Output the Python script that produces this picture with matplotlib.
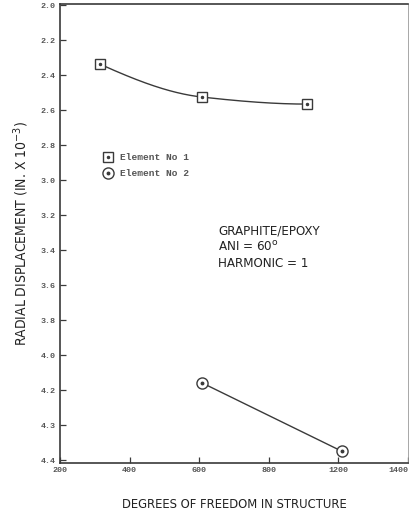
import numpy as np
import matplotlib
matplotlib.use("Agg")
import matplotlib.pyplot as plt
from matplotlib.lines import Line2D
from matplotlib import font_manager as fm

# ---- data (plot coordinates) ----
elem1_dof = [314, 609, 911]
elem1_disp = [2.337, 2.526, 2.566]
elem2_dof = [609, 1009]
elem2_disp = [4.16, 4.549]

x_tick_pos = [200, 400, 600, 800, 1000, 1200]
x_tick_labels = ["200", "400", "600", "800", "1200", "1400"]
y_tick_pos = [2.0, 2.2, 2.4, 2.6, 2.8, 3.0, 3.2, 3.4, 3.6, 3.8, 4.0, 4.2, 4.4, 4.6]
y_tick_labels = ["2.0", "2.2", "2.4", "2.6", "2.8", "3.0", "3.2", "3.4", "3.6",
                 "3.8", "4.0", "4.2", "4.3", "4.4"]

ink = "#3a3a3a"
names = {f.name for f in fm.fontManager.ttflist}
if "Liberation Sans Narrow" in names:
    cond = dict(family="Liberation Sans Narrow")
else:
    cond = dict(family="DejaVu Sans", stretch="condensed")


def pchip(x, y, xs):
    x = np.asarray(x, float); y = np.asarray(y, float)
    h = np.diff(x); dlt = np.diff(y) / h
    n = len(x); d = np.zeros(n)
    for k in range(1, n - 1):
        if dlt[k - 1] * dlt[k] > 0:
            w1 = 2 * h[k] + h[k - 1]; w2 = h[k] + 2 * h[k - 1]
            d[k] = (w1 + w2) / (w1 / dlt[k - 1] + w2 / dlt[k])
    d[0] = ((2 * h[0] + h[1]) * dlt[0] - h[0] * dlt[1]) / (h[0] + h[1])
    if np.sign(d[0]) != np.sign(dlt[0]):
        d[0] = 0
    d[-1] = ((2 * h[-1] + h[-2]) * dlt[-1] - h[-1] * dlt[-2]) / (h[-1] + h[-2])
    if np.sign(d[-1]) != np.sign(dlt[-1]):
        d[-1] = 0
    out = np.empty_like(xs)
    for i, xv in enumerate(xs):
        k = min(np.searchsorted(x, xv, side="right") - 1, n - 2)
        t = (xv - x[k]) / h[k]
        h00 = 2 * t**3 - 3 * t**2 + 1; h10 = t**3 - 2 * t**2 + t
        h01 = -2 * t**3 + 3 * t**2; h11 = t**3 - t**2
        out[i] = h00 * y[k] + h10 * h[k] * d[k] + h01 * y[k + 1] + h11 * h[k] * d[k + 1]
    return out


fig = plt.figure(figsize=(4.10, 5.14), dpi=100)
ax = fig.add_axes([60/410, 51/514, 348/410, 459/514])

# element 1: smooth curve through points
xs = np.linspace(min(elem1_dof), max(elem1_dof), 150)
ax.plot(xs, pchip(elem1_dof, elem1_disp, xs), color=ink, lw=1.0, zorder=2)
ax.plot(elem1_dof, elem1_disp, ls="none", marker="s", ms=6.5, mfc="white",
        mec=ink, mew=1.0, zorder=3)
ax.plot(elem1_dof, elem1_disp, ls="none", marker="o", ms=1.5, color=ink, zorder=4)

# element 2
ax.plot(elem2_dof, elem2_disp, color=ink, lw=1.0, zorder=2)
ax.plot(elem2_dof, elem2_disp, ls="none", marker="o", ms=8, mfc="white",
        mec=ink, mew=1.0, zorder=3)
ax.plot(elem2_dof, elem2_disp, ls="none", marker="o", ms=1.8, color=ink, zorder=4)

ax.set_xlim(200, 1195)
ax.set_ylim(4.617, 1.994)

ax.set_xticks(x_tick_pos)
ax.set_xticklabels(x_tick_labels)
ax.set_yticks(y_tick_pos)
ax.set_yticklabels(y_tick_labels)
ax.tick_params(direction="in", length=4, width=0.9, color=ink, labelcolor="#555555",
               labelsize=6, pad=3)
for lab in ax.get_xticklabels() + ax.get_yticklabels():
    lab.set_family("Liberation Mono")
    lab.set_weight("bold")
ax.get_xticklabels()[-1].set_horizontalalignment("right")

for s in ax.spines.values():
    s.set_color(ink)
    s.set_linewidth(1.2)
ax.spines["right"].set_linewidth(0.6)
ax.spines["right"].set_color("#999999")

ax.set_xlabel("DEGREES OF FREEDOM IN STRUCTURE", fontsize=9.3, color="#222222",
              labelpad=17, **cond)
ax.set_ylabel("RADIAL DISPLACEMENT (IN. X 10$^{-3}$)", fontsize=10,
              color="#222222", labelpad=7, **cond)

# legend
h1 = (Line2D([], [], ls="none", marker="s", ms=6.5, mfc="white", mec=ink, mew=1.0),
      Line2D([], [], ls="none", marker="o", ms=1.5, color=ink))
h2 = (Line2D([], [], ls="none", marker="o", ms=8, mfc="white", mec=ink, mew=1.0),
      Line2D([], [], ls="none", marker="o", ms=1.8, color=ink))
leg = ax.legend([h1, h2], ["Element No 1", "Element No 2"], frameon=False,
                loc="upper left", bbox_to_anchor=(0.105, 0.69),
                prop={"family": "Liberation Mono", "weight": "bold", "size": 6.8},
                handlelength=1.0, handletextpad=0.8, labelspacing=0.75,
                borderpad=0.2)
for t in leg.get_texts():
    t.set_color("#555555")

ax.text(0.455, 0.52, "GRAPHITE/EPOXY\nANI = 60$^{\\mathrm{o}}$\nHARMONIC = 1",
        transform=ax.transAxes, ha="left", va="top", fontsize=9.5,
        color="#222222", linespacing=1.25, **cond)

fig.savefig("out.png", dpi=100, facecolor="white")
